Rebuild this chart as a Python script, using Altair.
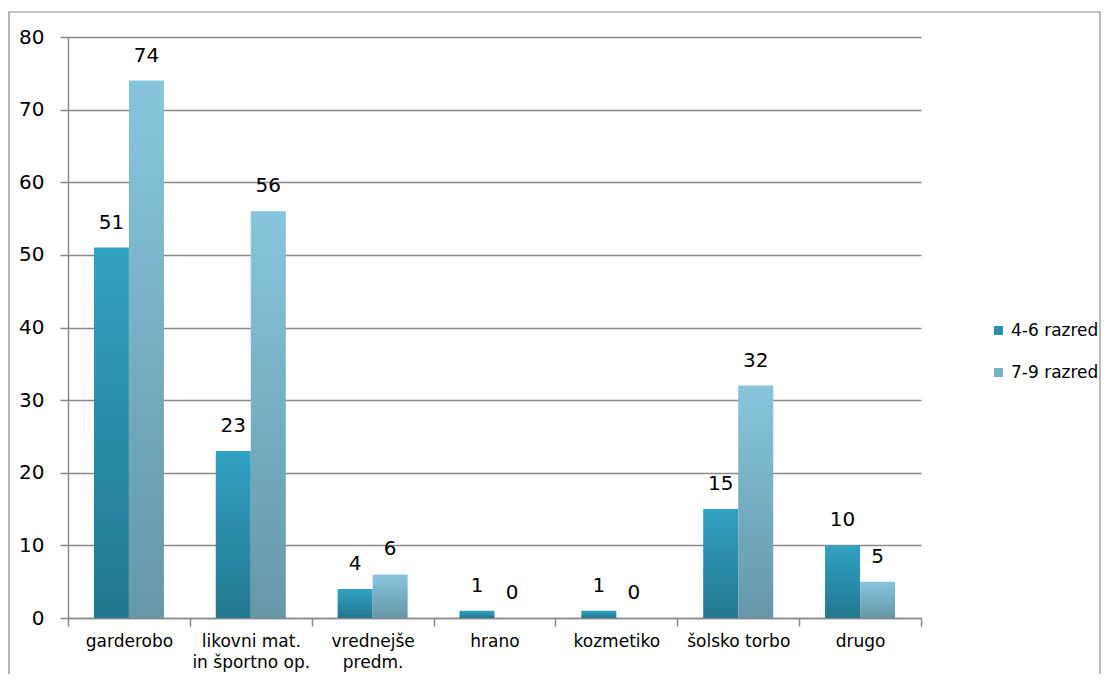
import altair as alt
import pandas as pd

categories = ["garderobo", "likovni mat.|in športno op.", "vrednejše|predm.", "hrano",
              "kozmetiko", "šolsko torbo", "drugo"]
series_names = ["4-6 razred", "7-9 razred"]
values_46 = [51, 23, 4, 1, 1, 15, 10]
values_79 = [74, 56, 6, 0, 0, 32, 5]
y_ticks = [0, 10, 20, 30, 40, 50, 60, 70, 80]

rows = []
for c, a, b in zip(categories, values_46, values_79):
    rows.append({"cat": c, "series": series_names[0], "value": a})
    rows.append({"cat": c, "series": series_names[1], "value": b})
df = pd.DataFrame(rows)

FONT = "DejaVu Sans"
grad1 = {"gradient": "linear", "x1": 0, "y1": 0, "x2": 0, "y2": 1,
         "stops": [{"offset": 0, "color": "#32a2c2"}, {"offset": 1, "color": "#22778e"}]}
grad2 = {"gradient": "linear", "x1": 0, "y1": 0, "x2": 0, "y2": 1,
         "stops": [{"offset": 0, "color": "#87c5dd"}, {"offset": 1, "color": "#6697a8"}]}

x_enc = alt.X("cat:N", sort=categories, title=None,
              scale=alt.Scale(paddingInner=0, paddingOuter=0),
              axis=alt.Axis(labelExpr="split(datum.label, '|')", labelAngle=0,
                            labelFontSize=17, labelColor="#000", labelFont=FONT,
                            labelLineHeight=21, labelPadding=7, labelBaseline="top",
                            tickBand="extent", tickSize=8, tickColor="#8a8a8a",
                            tickWidth=1.5, domainColor="#8a8a8a", domainWidth=1.5,
                            grid=False))
xo_enc = alt.XOffset("series:N", sort=series_names,
                     scale=alt.Scale(paddingInner=0, paddingOuter=0.74))
y_enc = alt.Y("value:Q", title=None,
              scale=alt.Scale(domain=[0, 80], nice=False),
              axis=alt.Axis(values=y_ticks, labelFontSize=20, labelColor="#000",
                            labelFont=FONT, labelPadding=16, tickSize=8,
                            tickColor="#8a8a8a", tickWidth=1.5,
                            domainColor="#8a8a8a", domainWidth=1.5,
                            gridColor="#8a8a8a", gridWidth=1.5))

base = alt.Chart(df)

legend_layer = base.mark_bar(opacity=0).encode(
    x=x_enc, xOffset=xo_enc, y=y_enc,
    color=alt.Color("series:N", sort=series_names,
                    scale=alt.Scale(domain=series_names, range=["#2a8fad", "#78b3c8"]),
                    legend=alt.Legend(title=None, orient="none", legendX=922, legendY=285,
                                      symbolType="square", symbolSize=81,
                                      symbolOpacity=1, symbolStrokeWidth=0,
                                      labelFontSize=17, labelFont=FONT,
                                      labelColor="#000", rowPadding=24, labelOffset=4)),
)

bars = base.mark_bar().encode(
    x=x_enc, xOffset=xo_enc, y=y_enc,
    fill=alt.condition(alt.datum.series == series_names[0], alt.value(grad1), alt.value(grad2)),
)

labels = base.mark_text(fontSize=20, font=FONT, color="#000", baseline="alphabetic",
                        dy=-19).encode(
    x=x_enc, xOffset=xo_enc, y=y_enc, text=alt.Text("value:Q"),
)

frame = alt.Chart(alt.Data(values=[{"k": 1}])).mark_rect(
    fill=None, stroke="#8a8a8a", strokeWidth=1.2
).encode(
    x=alt.value(-59), x2=alt.value(1032), y=alt.value(-25), y2=alt.value(700)
)

chart = alt.layer(frame, legend_layer, bars, labels).properties(
    width=853, height=581,
    autosize=alt.AutoSizeParams(type="none"),
    padding={"left": 60, "top": 29, "right": 181, "bottom": 56},
).configure_view(stroke=None)

chart.save("out.html", embed_options={"renderer": "svg", "actions": False})
